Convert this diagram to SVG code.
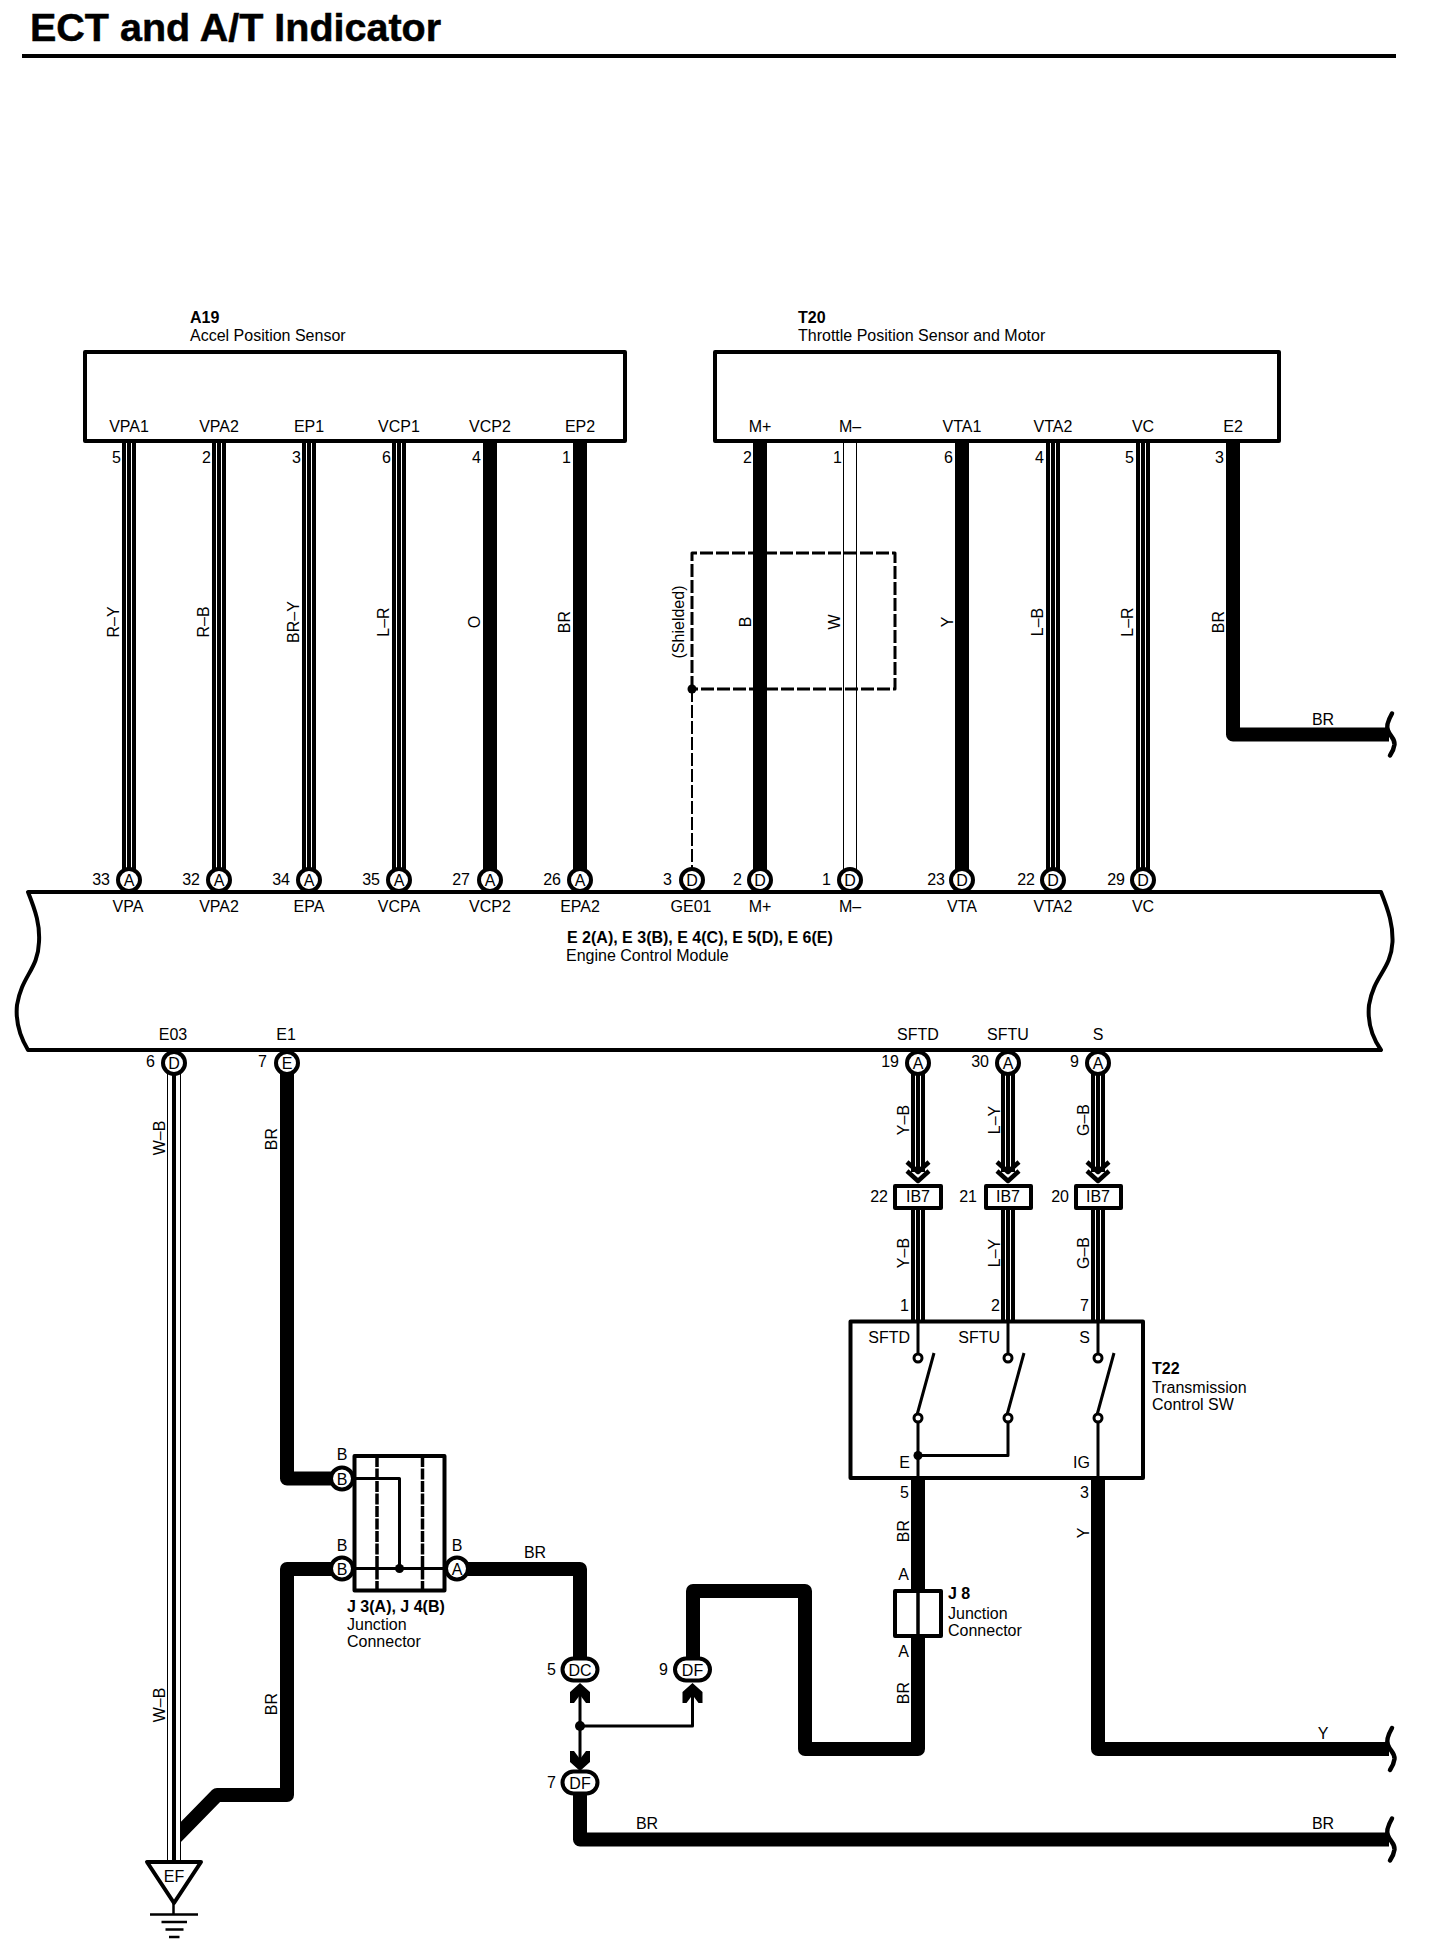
<svg xmlns="http://www.w3.org/2000/svg" width="1440" height="1956" viewBox="0 0 1440 1956">
<style>
text{font-family:"Liberation Sans",Arial,sans-serif;font-size:16px;fill:#000}
.b{font-weight:bold}.m{text-anchor:middle}.e{text-anchor:end}
.pl{font-size:16px;text-anchor:middle}
path,line,rect,circle,polygon,polyline{stroke-linejoin:round}
.box{fill:#fff;stroke:#000;stroke-width:4}
.w,.s1,.s2,.s3,.t1,.t2{fill:none}
.w,.s1,.t1{stroke:#000;stroke-width:14}
.s2{stroke:#fff;stroke-width:6}.s3{stroke:#000;stroke-width:4}
.t2{stroke:#fff;stroke-width:12}
.th{fill:none;stroke:#000;stroke-width:3}
.dash{fill:none;stroke:#000;stroke-width:3;stroke-dasharray:13 3}
.brk{fill:none;stroke:#000;stroke-width:4.5;stroke-linecap:round}
.pin{fill:#fff;stroke:#000;stroke-width:4}
.chev{fill:none;stroke:#000;stroke-width:4.5}
.con{fill:#fff;stroke:#000;stroke-width:4}
.c{fill:#fff;stroke:#000;stroke-width:3}
</style>
<defs>
<path id="brk" class="brk" d="M1392 -21C1388 -14 1386 -8 1388 -4C1390 2 1395 4 1394.5 10C1394 14 1392 18 1390 21"/>
<circle id="p" class="pin" r="11"/>
<g id="chevs"><polyline class="chev" points="-11,0 0,10 11,0"/><polyline class="chev" points="-11,9 0,19 11,9"/></g>
<polygon id="up" points="0,0 10,9 10,20 6,20 0,12 -6,20 -10,20 -10,9"/>
</defs>
<g id="title">
<text x="30" y="41" class="b" style="font-size:39.5px;stroke:#000;stroke-width:0.5">ECT and A/T Indicator</text>
<line x1="22" y1="56" x2="1396" y2="56" stroke="#000" stroke-width="4"/>
</g>
<g id="connectors">
<g id="w-vpa1"><path class="s1" d="M129 441V870"/><path class="s2" d="M129 441V870"/><path class="s3" d="M129 441V870"/></g>
<g id="w-vpa2"><path class="s1" d="M219 441V870"/><path class="s2" d="M219 441V870"/><path class="s3" d="M219 441V870"/></g>
<g id="w-ep1"><path class="s1" d="M309 441V870"/><path class="s2" d="M309 441V870"/><path class="s3" d="M309 441V870"/></g>
<g id="w-vcp1"><path class="s1" d="M399 441V870"/><path class="s2" d="M399 441V870"/><path class="s3" d="M399 441V870"/></g>
<path id="w-vcp2" class="w" d="M490 441V870"/>
<path id="w-ep2" class="w" d="M580 441V870"/>
<path id="w-mp" class="w" d="M760 441V870"/>
<g id="w-mm"><path class="t1" d="M850 441V870"/><path class="t2" d="M850 441V870"/></g>
<path id="w-vta1" class="w" d="M962 441V870"/>
<g id="w-vta2"><path class="s1" d="M1053 441V870"/><path class="s2" d="M1053 441V870"/><path class="s3" d="M1053 441V870"/></g>
<g id="w-vc"><path class="s1" d="M1143 441V870"/><path class="s2" d="M1143 441V870"/><path class="s3" d="M1143 441V870"/></g>
<path id="w-e2" class="w" d="M1233 441V734.5H1389"/>
<use href="#brk" y="734.5"/>
<path id="shield" class="dash" d="M692 689V553H895V689H692"/>
<path class="dash" style="stroke-width:2" d="M692 689V870"/>
<circle cx="692" cy="689" r="4.5"/>
<path id="w-e1" class="w" d="M287 1070V1478.5H335"/>
<path id="w-gnd" class="w" d="M335 1569H287V1795H217L174 1839"/>
<g id="w-e03"><path class="t1" d="M174 1070V1862"/><path class="t2" d="M174 1070V1862"/><path class="s3" d="M174 1070V1862"/></g>
<g id="w-sftd"><path class="s1" d="M918 1070V1172M918 1205V1322"/><path class="s2" d="M918 1070V1172M918 1205V1322"/><path class="s3" d="M918 1070V1172M918 1205V1322"/></g>
<g id="w-sftu"><path class="s1" d="M1008 1070V1172M1008 1205V1322"/><path class="s2" d="M1008 1070V1172M1008 1205V1322"/><path class="s3" d="M1008 1070V1172M1008 1205V1322"/></g>
<g id="w-s"><path class="s1" d="M1098 1070V1172M1098 1205V1322"/><path class="s2" d="M1098 1070V1172M1098 1205V1322"/><path class="s3" d="M1098 1070V1172M1098 1205V1322"/></g>
<use href="#chevs" x="918" y="1162"/><use href="#chevs" x="1008" y="1162"/><use href="#chevs" x="1098" y="1162"/>
<path id="w-a" class="w" d="M460 1569H580V1670"/>
<path id="w-j8" class="w" d="M693 1670V1591H805V1749H918V1478"/>
<path id="w-y" class="w" d="M1098 1478V1749H1389"/>
<use href="#brk" y="1749"/>
<path id="w-df7" class="w" d="M580 1783V1839.5H1389"/>
<use href="#brk" y="1839.5"/>
<path class="th" d="M580 1695V1765M580 1726H692.5V1695"/>
<use href="#up" x="580" y="1683"/><use href="#up" x="692.5" y="1683"/>
<use href="#up" transform="translate(580 1771) scale(1 -1)"/>
<circle cx="580" cy="1726" r="5"/>
<g id="wire-labels">
<text transform="rotate(-90 119 622)" x="119" y="622" class="m">R–Y</text>
<text transform="rotate(-90 209 622)" x="209" y="622" class="m">R–B</text>
<text transform="rotate(-90 299 622)" x="299" y="622" class="m">BR–Y</text>
<text transform="rotate(-90 389 622)" x="389" y="622" class="m">L–R</text>
<text transform="rotate(-90 480 622)" x="480" y="622" class="m">O</text>
<text transform="rotate(-90 570 622)" x="570" y="622" class="m">BR</text>
<text transform="rotate(-90 684 622)" x="684" y="622" class="m">(Shielded)</text>
<text transform="rotate(-90 751 622)" x="751" y="622" class="m">B</text>
<text transform="rotate(-90 840 622)" x="840" y="622" class="m">W</text>
<text transform="rotate(-90 953 622)" x="953" y="622" class="m">Y</text>
<text transform="rotate(-90 1043 622)" x="1043" y="622" class="m">L–B</text>
<text transform="rotate(-90 1133 622)" x="1133" y="622" class="m">L–R</text>
<text transform="rotate(-90 1224 622)" x="1224" y="622" class="m">BR</text>
<text x="1323" y="725" class="m">BR</text>
<text transform="rotate(-90 165 1138)" x="165" y="1138" class="m">W–B</text>
<text transform="rotate(-90 165 1705)" x="165" y="1705" class="m">W–B</text>
<text transform="rotate(-90 277 1139)" x="277" y="1139" class="m">BR</text>
<text transform="rotate(-90 277 1704)" x="277" y="1704" class="m">BR</text>
<text transform="rotate(-90 909 1120)" x="909" y="1120" class="m">Y–B</text>
<text transform="rotate(-90 909 1253)" x="909" y="1253" class="m">Y–B</text>
<text transform="rotate(-90 1000 1120)" x="1000" y="1120" class="m">L–Y</text>
<text transform="rotate(-90 1000 1253)" x="1000" y="1253" class="m">L–Y</text>
<text transform="rotate(-90 1089 1120)" x="1089" y="1120" class="m">G–B</text>
<text transform="rotate(-90 1089 1253)" x="1089" y="1253" class="m">G–B</text>
<text transform="rotate(-90 909 1531)" x="909" y="1531" class="m">BR</text>
<text transform="rotate(-90 909 1693)" x="909" y="1693" class="m">BR</text>
<text transform="rotate(-90 1089 1533)" x="1089" y="1533" class="m">Y</text>
<text x="535" y="1558" class="m">BR</text>
<text x="647" y="1829" class="m">BR</text>
<text x="1323" y="1739" class="m">Y</text>
<text x="1323" y="1829" class="m">BR</text>
</g>
</g>
<g id="A19">
<rect class="box" x="85" y="352" width="540" height="89"/>
<text x="190" y="323" class="b">A19</text>
<text x="190" y="341">Accel Position Sensor</text>
<g class="m">
<text x="129" y="432">VPA1</text><text x="219" y="432">VPA2</text><text x="309" y="432">EP1</text><text x="399" y="432">VCP1</text><text x="490" y="432">VCP2</text><text x="580" y="432">EP2</text>
</g>
<g class="e">
<text x="121" y="463">5</text><text x="211" y="463">2</text><text x="301" y="463">3</text><text x="391" y="463">6</text><text x="481" y="463">4</text><text x="571" y="463">1</text>
</g>
</g>
<g id="T20">
<rect class="box" x="715" y="352" width="564" height="89"/>
<text x="798" y="323" class="b">T20</text>
<text x="798" y="341">Throttle Position Sensor and Motor</text>
<g class="m">
<text x="760" y="432">M+</text><text x="850" y="432">M–</text><text x="962" y="432">VTA1</text><text x="1053" y="432">VTA2</text><text x="1143" y="432">VC</text><text x="1233" y="432">E2</text>
</g>
<g class="e">
<text x="752" y="463">2</text><text x="842" y="463">1</text><text x="953" y="463">6</text><text x="1044" y="463">4</text><text x="1134" y="463">5</text><text x="1224" y="463">3</text>
</g>
</g>
<g id="ECM">
<path class="box" d="M28 892H1381C1389 912 1393 925 1392.5 942C1391 970 1374 975 1369 1005C1367 1025 1374 1040 1381 1050H28C22 1040 15 1025 17 1005C22 975 38 970 39 942C40 925 36 912 28 892Z"/>
<text x="567" y="943" class="b">E 2(A), E 3(B), E 4(C), E 5(D), E 6(E)</text>
<text x="566" y="961">Engine Control Module</text>
<g class="m">
<text x="128" y="912">VPA</text><text x="219" y="912">VPA2</text><text x="309" y="912">EPA</text><text x="399" y="912">VCPA</text><text x="490" y="912">VCP2</text><text x="580" y="912">EPA2</text><text x="691" y="912">GE01</text><text x="760" y="912">M+</text><text x="850" y="912">M–</text><text x="962" y="912">VTA</text><text x="1053" y="912">VTA2</text><text x="1143" y="912">VC</text>
<text x="173" y="1040">E03</text><text x="286" y="1040">E1</text><text x="918" y="1040">SFTD</text><text x="1008" y="1040">SFTU</text><text x="1098" y="1040">S</text>
</g>
<g class="e">
<text x="110" y="885">33</text><text x="200" y="885">32</text><text x="290" y="885">34</text><text x="380" y="885">35</text><text x="470" y="885">27</text><text x="561" y="885">26</text><text x="672" y="885">3</text><text x="742" y="885">2</text><text x="831" y="885">1</text><text x="945" y="885">23</text><text x="1035" y="885">22</text><text x="1125" y="885">29</text>
<text x="155" y="1067">6</text><text x="267" y="1067">7</text><text x="899" y="1067">19</text><text x="989" y="1067">30</text><text x="1079" y="1067">9</text>
</g>
<g id="ecm-pins">
<use href="#p" x="129" y="880"/><use href="#p" x="219" y="880"/><use href="#p" x="309" y="880"/><use href="#p" x="399" y="880"/><use href="#p" x="490" y="880"/><use href="#p" x="580" y="880"/><use href="#p" x="692" y="880"/><use href="#p" x="760" y="880"/><use href="#p" x="850" y="880"/><use href="#p" x="962" y="880"/><use href="#p" x="1053" y="880"/><use href="#p" x="1143" y="880"/>
<use href="#p" x="174" y="1063"/><use href="#p" x="287" y="1063"/><use href="#p" x="918" y="1063"/><use href="#p" x="1008" y="1063"/><use href="#p" x="1098" y="1063"/>
<text class="pl" x="129" y="886">A</text><text class="pl" x="219" y="886">A</text><text class="pl" x="309" y="886">A</text><text class="pl" x="399" y="886">A</text><text class="pl" x="490" y="886">A</text><text class="pl" x="580" y="886">A</text><text class="pl" x="692" y="886">D</text><text class="pl" x="760" y="886">D</text><text class="pl" x="850" y="886">D</text><text class="pl" x="962" y="886">D</text><text class="pl" x="1053" y="886">D</text><text class="pl" x="1143" y="886">D</text>
<text class="pl" x="174" y="1069">D</text><text class="pl" x="287" y="1069">E</text><text class="pl" x="918" y="1069">A</text><text class="pl" x="1008" y="1069">A</text><text class="pl" x="1098" y="1069">A</text>
</g>
</g>
<g id="IB7-22"><rect class="con" x="895" y="1186" width="46" height="22"/><text x="918" y="1202" class="m">IB7</text><text x="888" y="1202" class="e">22</text></g>
<g id="IB7-21"><rect class="con" x="986" y="1186" width="45" height="22"/><text x="1008" y="1202" class="m">IB7</text><text x="977" y="1202" class="e">21</text></g>
<g id="IB7-20"><rect class="con" x="1076" y="1186" width="45" height="22"/><text x="1098" y="1202" class="m">IB7</text><text x="1069" y="1202" class="e">20</text></g>
<g id="T22">
<text x="909" y="1311" class="e">1</text><text x="1000" y="1311" class="e">2</text><text x="1089" y="1311" class="e">7</text>
<text x="909" y="1498" class="e">5</text><text x="1089" y="1498" class="e">3</text>
<rect class="box" x="850.5" y="1321.5" width="292.5" height="156.5"/>
<path class="th" d="M918 1321V1353M1008 1321V1353M1098 1321V1353M918 1423V1478M1098 1423V1478M918 1455.5H1008V1423"/>
<path class="th" d="M917 1415L934 1353M1007 1415L1024 1353M1097 1415L1114 1353"/>
<circle class="c" cx="918" cy="1358" r="4"/><circle class="c" cx="1008" cy="1358" r="4"/><circle class="c" cx="1098" cy="1358" r="4"/>
<circle class="c" cx="918" cy="1418" r="4"/><circle class="c" cx="1008" cy="1418" r="4"/><circle class="c" cx="1098" cy="1418" r="4"/>
<circle cx="918" cy="1455.5" r="4.5"/>
<text x="910" y="1343" class="e">SFTD</text><text x="1000" y="1343" class="e">SFTU</text><text x="1090" y="1343" class="e">S</text>
<text x="910" y="1468" class="e">E</text><text x="1090" y="1468" class="e">IG</text>
<text x="1152" y="1374" class="b">T22</text><text x="1152" y="1393">Transmission</text><text x="1152" y="1410">Control SW</text>
</g>
<g id="J3J4">
<rect class="box" x="354.5" y="1456" width="90" height="134.5"/>
<path d="M377 1456V1590M422.5 1456V1590" fill="none" stroke="#000" stroke-width="3.5" stroke-dasharray="11 1.5"/>
<path class="th" d="M355 1478.5H399.5V1568.5M355 1568.5H445"/>
<circle cx="399.5" cy="1568.5" r="4.5"/>
<use href="#p" x="342" y="1478.5"/><use href="#p" x="342" y="1568.5"/><use href="#p" x="457" y="1568.5"/>
<text class="pl" x="342" y="1484.5">B</text><text class="pl" x="342" y="1574.5">B</text><text class="pl" x="457" y="1574.5">A</text>
<text x="342" y="1460" class="m">B</text><text x="342" y="1551" class="m">B</text><text x="457" y="1551" class="m">B</text>
<text x="347" y="1612" class="b">J 3(A), J 4(B)</text><text x="347" y="1630">Junction</text><text x="347" y="1647">Connector</text>
</g>
<g id="J8">
<rect class="con" x="895" y="1591" width="46" height="45"/>
<line x1="918" y1="1591" x2="918" y2="1636" stroke="#000" stroke-width="3.5"/>
<text x="909" y="1580" class="e">A</text><text x="909" y="1657" class="e">A</text>
<text x="948" y="1599" class="b">J 8</text><text x="948" y="1619">Junction</text><text x="948" y="1636">Connector</text>
</g>
<g id="DC5"><rect class="pin" x="562.5" y="1658.5" width="35" height="22" rx="11"/><text x="580" y="1675.5" class="pl">DC</text><text x="556" y="1675" class="e">5</text></g>
<g id="DF9"><rect class="pin" x="675" y="1658.5" width="35" height="22" rx="11"/><text x="692.5" y="1675.5" class="pl">DF</text><text x="668" y="1675" class="e">9</text></g>
<g id="DF7"><rect class="pin" x="562.5" y="1771.5" width="35" height="22" rx="11"/><text x="580" y="1788.5" class="pl">DF</text><text x="556" y="1788" class="e">7</text></g>
<g id="EF">
<polygon class="box" points="147,1862 201,1862 174,1903"/>
<text x="174" y="1882" class="m" style="font-size:16px">EF</text>
<path fill="none" stroke="#000" stroke-width="2.5" d="M173.5 1903V1914M150 1914.5H198M161.5 1922H187M165.5 1929.5H183.5M169 1937H179.5"/>
</g>
</svg>
